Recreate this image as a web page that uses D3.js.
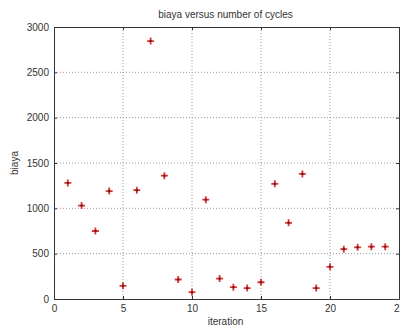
<!DOCTYPE html>
<html>
<head>
<meta charset="utf-8">
<script src="https://cdn.jsdelivr.net/npm/d3@7"></script>
<style>
  body { margin: 0; background: #fff; }
  text { font-family: "Liberation Sans", Arial, sans-serif; fill: #333; }
</style>
</head>
<body>
<div id="chart"></div>
<script>
// data
var iterations = [1, 2, 3, 4, 5, 6, 7, 8, 9, 10, 11, 12, 13, 14, 15, 16, 17, 18, 19, 20, 21, 22, 23, 24];
var biaya = [1280, 1030, 750, 1190, 145, 1200, 2845, 1360, 215, 75, 1095, 225, 130, 120, 185, 1270, 840, 1380, 120, 355, 550, 570, 577, 577];
var xTicks = [0, 5, 10, 15, 20, 25];
var yTicks = [0, 500, 1000, 1500, 2000, 2500, 3000];

var svgWidth = 400;
var svgHeight = 327;
var margin = { top: 27, right: 1, bottom: 28, left: 54 };
var width = svgWidth - margin.left - margin.right;
var height = svgHeight - margin.top - margin.bottom;

var svg = d3.select("#chart").append("svg")
  .attr("width", svgWidth)
  .attr("height", svgHeight);

var chartGroup = svg.append("g")
  .attr("transform", `translate(${margin.left}, ${margin.top})`);

var x = d3.scaleLinear().domain([0, 25]).range([0, width]);
var y = d3.scaleLinear().domain([0, 3000]).range([height, 0]);

// grid
chartGroup.append("g").selectAll("line").data(xTicks.slice(1, -1)).enter()
  .append("line")
  .attr("x1", d => x(d)).attr("x2", d => x(d))
  .attr("y1", 0).attr("y2", height)
  .attr("stroke", "#999").attr("stroke-dasharray", "1,2");

chartGroup.append("g").selectAll("line").data(yTicks.slice(1, -1)).enter()
  .append("line")
  .attr("y1", d => y(d)).attr("y2", d => y(d))
  .attr("x1", 0).attr("x2", width)
  .attr("stroke", "#999").attr("stroke-dasharray", "1,2");

// axes (ticks inward, box on)
var bottomAxis = d3.axisBottom(x).tickValues(xTicks).tickFormat(d3.format("d"))
  .tickSizeInner(-3).tickSizeOuter(0).tickPadding(6);
var leftAxis = d3.axisLeft(y).tickValues(yTicks).tickFormat(d3.format("d"))
  .tickSizeInner(-3).tickSizeOuter(0).tickPadding(5);
var topAxis = d3.axisTop(x).tickValues(xTicks).tickSizeInner(-3).tickSizeOuter(0).tickFormat("");
var rightAxis = d3.axisRight(y).tickValues(yTicks).tickSizeInner(-3).tickSizeOuter(0).tickFormat("");

chartGroup.append("g").attr("class", "axis")
  .attr("transform", `translate(0, ${height})`).call(bottomAxis);
chartGroup.append("g").attr("class", "axis").call(leftAxis);
chartGroup.append("g").attr("class", "axis").call(topAxis);
chartGroup.append("g").attr("class", "axis")
  .attr("transform", `translate(${width}, 0)`).call(rightAxis);

chartGroup.selectAll(".axis path").attr("stroke", "#333");
chartGroup.selectAll(".axis line").attr("stroke", "#333");
chartGroup.selectAll(".axis text").attr("font-size", "10px").attr("fill", "#333")
  .style("font-family", "Liberation Sans, Arial, sans-serif");

// markers
var pts = chartGroup.append("g").selectAll("g").data(iterations).enter()
  .append("g")
  .attr("transform", (d, i) => `translate(${x(d)}, ${y(biaya[i])})`);

pts.append("path")
  .attr("d", "M-3.5,0H3.5M0,-3.5V3.5")
  .attr("stroke", "#d83a3a").attr("stroke-width", 1.8).attr("fill", "none");
pts.append("circle")
  .attr("r", 1.3).attr("fill", "#8a1515");

// labels
svg.append("text")
  .attr("x", margin.left + width / 2 - 1).attr("y", 18)
  .attr("text-anchor", "middle").attr("font-size", "10px")
  .text("biaya versus number of cycles");

svg.append("text")
  .attr("transform", `translate(${margin.left + width / 2 - 1}, ${svgHeight - 2})`)
  .attr("text-anchor", "middle").attr("font-size", "10px")
  .text("iteration");

svg.append("text")
  .attr("transform", `translate(18, ${margin.top + height / 2}) rotate(-90)`)
  .attr("text-anchor", "middle").attr("font-size", "10px")
  .text("biaya");
</script>
</body>
</html>
